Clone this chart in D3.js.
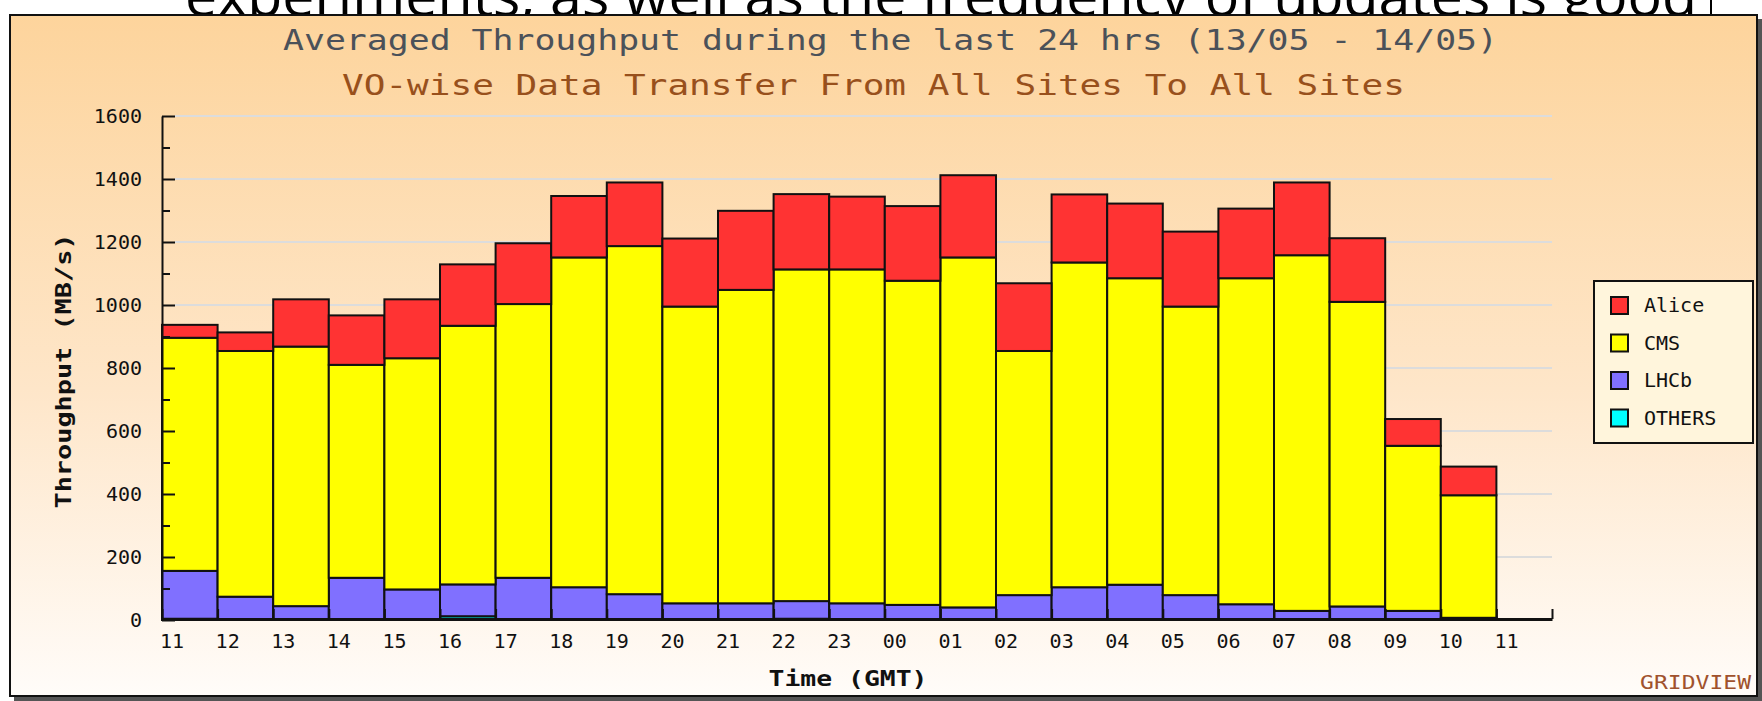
<!DOCTYPE html>
<html>
<head>
<meta charset="utf-8">
<script src="https://cdn.jsdelivr.net/npm/d3@7"></script>
<style>
  body { margin: 0; background: #fff; }
  svg { display: block; }
</style>
</head>
<body>
<svg id="chart" width="1762" height="701"></svg>
<script>
// hours (GMT) of each bar, 13/05 11:00 -> 14/05 10:00
const hours = ['11','12','13','14','15','16','17','18','19','20','21','22','23',
               '00','01','02','03','04','05','06','07','08','09','10'];
const tickLabels = hours.concat(['11']);

// MB/s per VO
const alice  = [41, 59, 150, 157, 187, 195, 193, 195, 202, 216, 251, 239, 231, 237, 261, 215, 216, 237, 238, 221, 231, 202, 85, 91];
const cms    = [740, 780, 824, 676, 734, 821, 869, 1047, 1105, 942, 995, 1053, 1060, 1029, 1111, 775, 1031, 973, 916, 1035, 1129, 967, 524, 389];
const lhcb   = [152, 71, 41, 131, 94, 101, 131, 102, 80, 51, 51, 56, 51, 46, 38, 77, 102, 110, 77, 48, 27, 41, 27, 5];
const others = [4, 3, 3, 3, 3, 12, 3, 2, 2, 2, 2, 4, 2, 2, 2, 2, 2, 2, 2, 2, 2, 2, 2, 2];

const yTicks = [0, 200, 400, 600, 800, 1000, 1200, 1400, 1600];

const legendNames = ['Alice', 'CMS', 'LHCb', 'OTHERS'];
const colors = { Alice: '#ff3333', CMS: '#ffff00', LHCb: '#8070ff', OTHERS: '#00ffff' };

const mono = "'DejaVu Sans Mono', monospace";

const svg = d3.select('#chart');

// text of the page the chart was pasted on, cut by the frame
svg.append('text')
  .attr('x', 185)
  .attr('y', 16)
  .attr('font-family', "'Open Sans', sans-serif")
  .attr('font-size', 56)
  .attr('textLength', 1512)
  .attr('lengthAdjust', 'spacingAndGlyphs')
  .attr('fill', '#000')
  .text('experiments, as well as the frequency of updates is good');

svg.append('line')
  .attr('x1', 1711).attr('x2', 1711)
  .attr('y1', 0).attr('y2', 16)
  .attr('stroke', '#000').attr('stroke-width', 2);

// background gradient
const defs = svg.append('defs');
const grad = defs.append('linearGradient')
  .attr('id', 'bg').attr('x1', 0).attr('y1', 0).attr('x2', 0).attr('y2', 1);
grad.append('stop').attr('offset', '0%').attr('stop-color', '#fdd49c');
grad.append('stop').attr('offset', '55%').attr('stop-color', '#fee6c9');
grad.append('stop').attr('offset', '100%').attr('stop-color', '#fffcf9');

// frame + shadow
svg.append('rect')
  .attr('x', 14).attr('y', 19).attr('width', 1748).attr('height', 682)
  .attr('fill', '#555');
svg.append('rect')
  .attr('x', 10).attr('y', 15).attr('width', 1747).attr('height', 681)
  .attr('fill', 'url(#bg)')
  .attr('stroke', '#111').attr('stroke-width', 2);

// titles
svg.append('text')
  .attr('x', 283).attr('y', 50)
  .attr('font-family', mono).attr('font-size', 28)
  .attr('textLength', 1215).attr('lengthAdjust', 'spacingAndGlyphs')
  .attr('fill', '#4b5159')
  .text('Averaged Throughput during the last 24 hrs (13/05 - 14/05)');

svg.append('text')
  .attr('x', 342).attr('y', 95)
  .attr('font-family', mono).attr('font-size', 28)
  .attr('textLength', 1063).attr('lengthAdjust', 'spacingAndGlyphs')
  .attr('fill', '#98501c')
  .text('VO-wise Data Transfer From All Sites To All Sites');

// scales
const x0 = 162, x1 = 1552;
const yTop = 116, yBot = 620;

const x = d3.scaleLinear().domain([0, 25]).range([x0, x1]);
const y = d3.scaleLinear().domain([0, 1600]).range([yBot, yTop]);

// grid lines
svg.append('g')
  .selectAll('line')
  .data(yTicks.filter(d => d > 0))
  .enter()
  .append('line')
  .attr('x1', x0 + 13).attr('x2', x1)
  .attr('y1', d => y(d)).attr('y2', d => y(d))
  .attr('stroke', '#dcdcdc').attr('stroke-width', 2);

// stacked bars
const table = hours.map((h, i) => ({
  i: i, OTHERS: others[i], LHCb: lhcb[i], CMS: cms[i], Alice: alice[i]
}));
const stack = d3.stack().keys(['OTHERS', 'LHCb', 'CMS', 'Alice'])(table);

svg.append('g')
  .selectAll('g')
  .data(stack)
  .enter()
  .append('g')
  .attr('fill', d => d.key === 'OTHERS' ? '#00d0d0' : colors[d.key])
  .selectAll('rect')
  .data(d => d)
  .enter()
  .append('rect')
  .attr('x', d => x(d.data.i))
  .attr('y', d => y(d[1]))
  .attr('width', x(1) - x(0))
  .attr('height', d => y(d[0]) - y(d[1]))
  .attr('stroke', '#111')
  .attr('stroke-width', 2);

// y axis
const yAxis = svg.append('g')
  .attr('transform', `translate(${x0},0)`)
  .call(d3.axisLeft(y).tickValues(d3.range(0, 1700, 100)).tickSize(-8).tickSizeOuter(0).tickFormat(''));
yAxis.select('.domain').attr('stroke', '#111').attr('stroke-width', 2);
yAxis.selectAll('.tick line')
  .attr('stroke', '#111').attr('stroke-width', 2)
  .attr('x2', d => d % 200 === 0 ? 13 : 8);

svg.append('g')
  .selectAll('text')
  .data(yTicks)
  .enter()
  .append('text')
  .attr('x', 142)
  .attr('y', d => y(d) + 7)
  .attr('text-anchor', 'end')
  .attr('font-family', mono).attr('font-size', 20)
  .attr('fill', '#111')
  .text(d => d);

// x axis
const xAxis = svg.append('g')
  .attr('transform', `translate(0,${yBot - 1})`)
  .call(d3.axisBottom(x).tickValues(d3.range(26)).tickSize(-10).tickSizeOuter(0).tickFormat(''));
xAxis.select('.domain').attr('stroke', '#111').attr('stroke-width', 3);
xAxis.selectAll('.tick line').attr('stroke', '#111').attr('stroke-width', 2);

svg.append('g')
  .selectAll('text')
  .data(tickLabels)
  .enter()
  .append('text')
  .attr('x', (d, i) => x(i) - 2)
  .attr('y', 648)
  .attr('font-family', mono).attr('font-size', 20)
  .attr('fill', '#111')
  .text(d => d);

// axis titles
svg.append('text')
  .attr('transform', 'translate(71,371) rotate(-90)')
  .attr('text-anchor', 'middle')
  .attr('font-family', mono).attr('font-size', 22).attr('font-weight', 'bold')
  .attr('textLength', 275).attr('lengthAdjust', 'spacingAndGlyphs')
  .attr('fill', '#111')
  .text('Throughput (MB/s)');

svg.append('text')
  .attr('x', 848).attr('y', 686)
  .attr('text-anchor', 'middle')
  .attr('font-family', mono).attr('font-size', 22).attr('font-weight', 'bold')
  .attr('textLength', 159).attr('lengthAdjust', 'spacingAndGlyphs')
  .attr('fill', '#111')
  .text('Time (GMT)');

// legend
const legend = svg.append('g');
legend.append('rect')
  .attr('x', 1594).attr('y', 281).attr('width', 159).attr('height', 162)
  .attr('fill', '#fff5dc').attr('stroke', '#111').attr('stroke-width', 2);

const rows = legend.selectAll('g.row')
  .data(legendNames)
  .enter()
  .append('g')
  .attr('class', 'row')
  .attr('transform', (d, i) => `translate(1611,${305 + i * 37.5})`);
rows.append('rect')
  .attr('x', 0).attr('y', -8).attr('width', 17).attr('height', 17)
  .attr('fill', d => colors[d])
  .attr('stroke', '#111').attr('stroke-width', 2);
rows.append('text')
  .attr('x', 33).attr('y', 7)
  .attr('font-family', mono).attr('font-size', 20)
  .attr('fill', '#111')
  .text(d => d);

// credit
svg.append('text')
  .attr('x', 1751).attr('y', 689)
  .attr('text-anchor', 'end')
  .attr('font-family', mono).attr('font-size', 20)
  .attr('textLength', 111).attr('lengthAdjust', 'spacingAndGlyphs')
  .attr('fill', '#a0522d')
  .text('GRIDVIEW');
</script>
</body>
</html>
